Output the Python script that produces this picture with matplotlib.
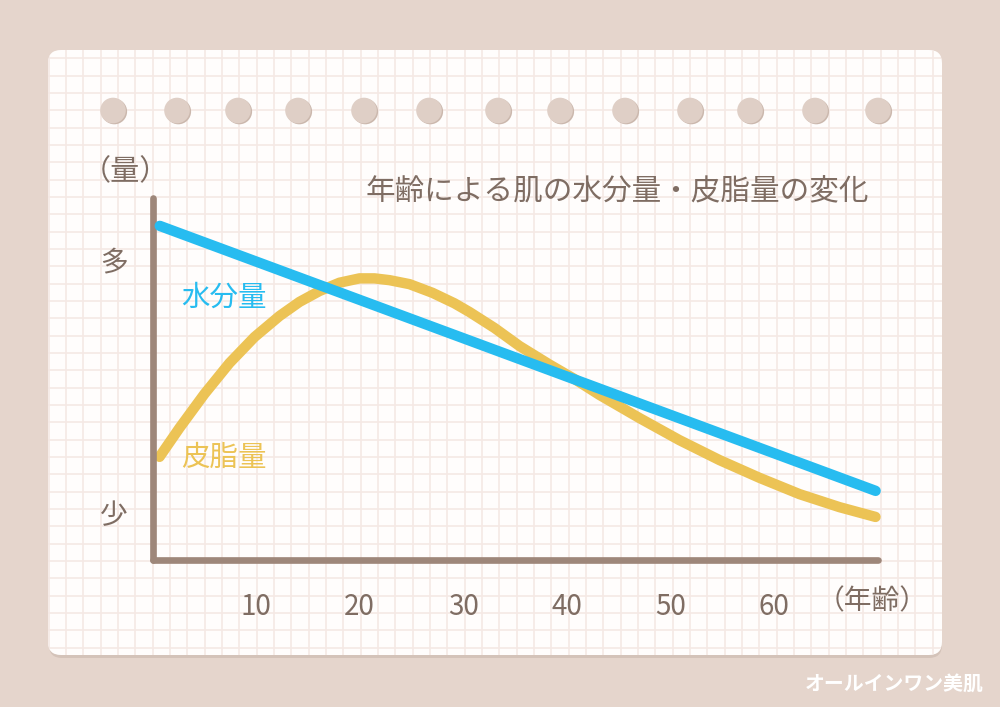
import matplotlib
matplotlib.use("Agg")
import matplotlib.pyplot as plt
from matplotlib.patches import FancyBboxPatch, Circle

plt.rcParams['font.family'] = ['Noto Sans CJK JP', 'DejaVu Sans']

# ---- data ----
title = "年齢による肌の水分量・皮脂量の変化"
x_ticks = [10, 20, 30, 40, 50, 60]
x_ticklabels = ["10", "20", "30", "40", "50", "60"]
y_ticks = [83.2, 13.2]
y_ticklabels = ["多", "少"]
x_unit = "（年齢）"
y_unit = "（量）"

water_label = "水分量"
water_age = [0.7, 69.8]
water_val = [92.3, 19.1]

sebum_label = "皮脂量"
sebum_age = [0.68, 2.61, 5.02, 7.43, 9.85, 12.26, 14.19, 16.12, 18.05, 19.98,
             21.43, 22.88, 24.81, 27.03, 29.15, 30.6, 33.01, 35.43, 38.32,
             40.73, 43.15, 47.01, 50.87, 54.73, 58.59, 62.45, 66.31, 69.79]
sebum_val = [28.5, 36.5, 45.9, 54.4, 61.6, 67.4, 71.3, 74.3, 76.6, 77.8,
             77.8, 77.3, 76.2, 73.8, 70.9, 68.5, 64.1, 59.1, 54.0,
             50.0, 45.6, 39.2, 33.1, 27.6, 22.7, 18.2, 14.6, 11.9]

watermark = "オールインワン美肌"

# ---- style ----
BG = "#e5d5cc"
CARD = "#fffdfc"
GRID = "#f5e9e5"
HOLE = "#dfcfc6"
HOLE_SH = "#cbb8ad"
AXIS = "#9e877a"
TEXT = "#7f6d63"
BLUE = "#27bcf0"
YELLOW = "#ecc355"

W, H = 1000, 707
fig = plt.figure(figsize=(W / 100, H / 100), dpi=100)
fig.patch.set_facecolor(BG)

# background / paper layer in pixel coordinates
bg = fig.add_axes([0, 0, 1, 1])
bg.set_xlim(0, W)
bg.set_ylim(H, 0)
bg.axis("off")

shadow = FancyBboxPatch((49, 52), 893, 606, boxstyle="round,pad=0,rounding_size=13",
                        fc="#d4c3b9", ec="none", zorder=1)
bg.add_patch(shadow)
card = FancyBboxPatch((48, 50), 894, 605, boxstyle="round,pad=0,rounding_size=13",
                      fc=CARD, ec="none", zorder=2)
bg.add_patch(card)

step = 17.33
gx = 66.0
while gx > 48:
    gx -= step
gx += step
while gx < 942:
    ln, = bg.plot([gx, gx], [40, 670], color=GRID, lw=1.2, zorder=3)
    ln.set_clip_path(card)
    gx += step
gy = 58.3
while gy < 656:
    ln, = bg.plot([40, 950], [gy, gy], color=GRID, lw=1.2, zorder=3)
    ln.set_clip_path(card)
    gy += step

hole_x = [113, 177, 238, 298, 364, 429, 498, 560, 625, 690, 750, 815, 878]
for hx in hole_x:
    bg.add_patch(Circle((hx + 1.3, 111.5), 12.8, fc=HOLE_SH, ec="none", zorder=4))
    bg.add_patch(Circle((hx, 110.5), 12.8, fc=HOLE, ec="none", zorder=5))

bg.text(617, 192, title, fontsize=21.3, color=TEXT, ha="center", va="center", zorder=6)
bg.text(125, 172, y_unit, fontsize=21, color=TEXT, ha="center", va="center", zorder=6)
bg.text(872, 601, x_unit, fontsize=20, color=TEXT, ha="center", va="center", zorder=6)
bg.text(894, 683, watermark, fontsize=14.3, color="white", fontweight="bold",
        ha="center", va="center", zorder=6)

# ---- data axes ----
ax = fig.add_axes([152.5 / W, (H - 560) / H, 70 * 10.36 / W, 362 / H])
ax.patch.set_alpha(0)
ax.set_xlim(0, 70)
ax.set_ylim(0, 100)
for s in ["top", "right"]:
    ax.spines[s].set_visible(False)
for s in ["left", "bottom"]:
    ax.spines[s].set_color(AXIS)
    ax.spines[s].set_linewidth(4.8)
    ax.spines[s].set_capstyle("round")
ax.spines["left"].set_bounds(0, 100)
ax.spines["bottom"].set_bounds(0, 70)

ax.set_xticks(x_ticks)
ax.set_xticklabels(x_ticklabels)
ax.set_yticks(y_ticks)
ax.set_yticklabels(y_ticklabels)
ax.tick_params(axis="both", length=0, labelsize=20, labelcolor=TEXT)
ax.tick_params(axis="x", pad=23)
ax.tick_params(axis="y", pad=18)

ax.plot(water_age, water_val, color=BLUE, lw=7.5, solid_capstyle="round",
        solid_joinstyle="round", clip_on=False, zorder=3)
ax.plot(sebum_age, sebum_val, color=YELLOW, lw=7.5, solid_capstyle="round",
        solid_joinstyle="round", clip_on=False, zorder=2)

ax.text(2.8, 72.5, water_label, fontsize=20.5, color=BLUE, ha="left", va="center")
ax.text(2.8, 28.3, sebum_label, fontsize=20.5, color=YELLOW, ha="left", va="center")

fig.savefig("out.png", dpi=100, facecolor=BG)
